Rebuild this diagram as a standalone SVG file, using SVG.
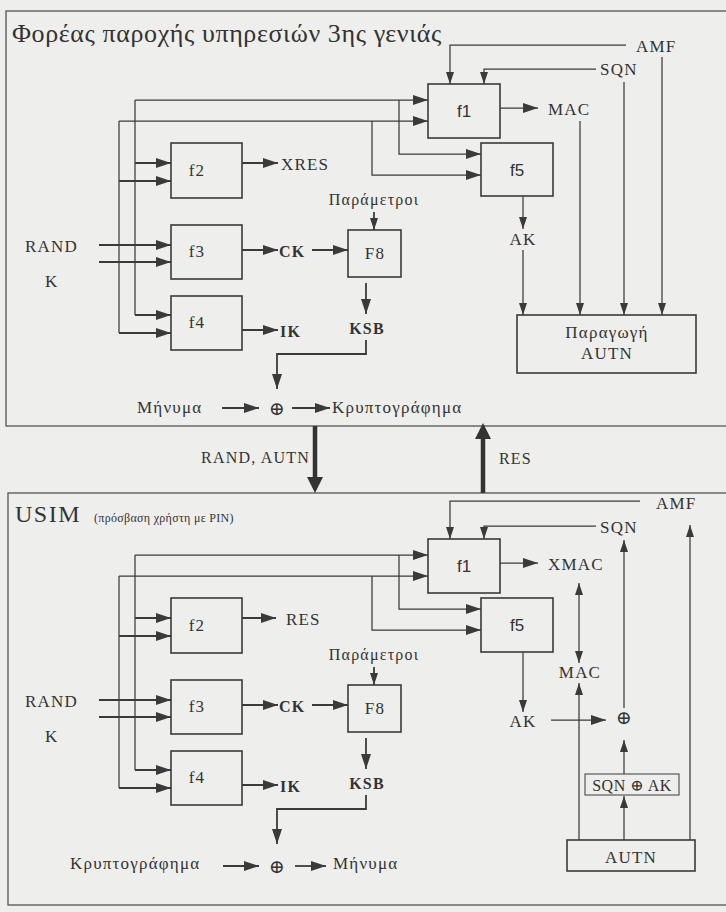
<svg xmlns="http://www.w3.org/2000/svg" width="726" height="912" viewBox="0 0 726 912" font-family="'Liberation Serif','Times New Roman',serif">
<defs>
<marker id="ah" markerUnits="userSpaceOnUse" markerWidth="15" markerHeight="10" refX="15" refY="5" orient="auto"><path d="M0,0 L15,5 L0,10 z" fill="#3a3a3a"/></marker>
<marker id="as" markerUnits="userSpaceOnUse" markerWidth="12" markerHeight="8" refX="12" refY="4" orient="auto"><path d="M0,0 L12,4 L0,8 z" fill="#3a3a3a"/></marker>
<marker id="asr" markerUnits="userSpaceOnUse" markerWidth="12" markerHeight="8" refX="0" refY="4" orient="auto"><path d="M12,0 L0,4 L12,8 z" fill="#3a3a3a"/></marker>
</defs>
<style>
text{font-family:"Liberation Serif","Times New Roman",serif;fill:#333;font-size:17px;letter-spacing:1.2px}
.sans{font-family:"Liberation Sans",Arial,sans-serif;letter-spacing:0}
.b{font-weight:bold;font-size:16px}
.m{text-anchor:middle}
.op{font-family:"DejaVu Serif",serif;font-size:19px;letter-spacing:0}
.box{fill:none;stroke:#3a3a3a;stroke-width:1.6}
.panel{fill:none;stroke:#555;stroke-width:1.3}
.t{fill:none;stroke:#3a3a3a;stroke-width:1.25}
.k{fill:none;stroke:#3a3a3a;stroke-width:1.8}
.big{fill:none;stroke:#333;stroke-width:4.5}
</style>
<rect width="726" height="912" fill="#eeeeec"/>

<g id="panel-top">
<rect class="panel" x="6" y="11" width="740" height="415"/>
<text x="12" y="42" style="font-size:26px;letter-spacing:0.6px">Φορέας παροχής υπηρεσιών 3ης γενιάς</text>
</g>
<g id="panel-bottom">
<rect class="panel" x="8" y="493" width="740" height="412"/>
<text x="15" y="522" style="font-size:24px;letter-spacing:1.5px">USIM</text>
<text x="94" y="522" style="font-size:12px;letter-spacing:0.3px">(πρόσβαση χρήστη με  PIN)</text>
</g>

<!-- top nodes -->
<g id="t-f1"><rect class="box" x="428" y="84" width="72" height="54"/><text class="sans m" x="464" y="117">f1</text></g>
<g id="t-f5"><rect class="box" x="481" y="143" width="72" height="53"/><text class="sans m" x="517" y="176">f5</text></g>
<g id="t-f2"><rect class="box" x="171" y="143" width="71" height="55"/><text class="m" x="197" y="176">f2</text></g>
<g id="t-f3"><rect class="box" x="171" y="225" width="71" height="54"/><text class="m" x="197" y="257">f3</text></g>
<g id="t-f4"><rect class="box" x="171" y="296" width="71" height="54"/><text class="m" x="197" y="328">f4</text></g>
<g id="t-F8"><rect class="box" x="348" y="230" width="53" height="47"/><text class="m" x="375" y="259">F8</text></g>
<g id="t-autn"><rect class="box" x="517" y="315" width="179" height="58"/><text class="m" x="607" y="338">Παραγωγή</text><text class="m" x="607" y="359">AUTN</text></g>
<g id="t-labels">
<text x="636" y="52">AMF</text>
<text x="600" y="75">SQN</text>
<text x="548" y="115">MAC</text>
<text class="m" x="523" y="245">AK</text>
<text x="281" y="170">XRES</text>
<text x="25" y="252">RAND</text>
<text x="45" y="287">K</text>
<text class="b" x="279" y="257">CK</text>
<text class="b" x="280" y="337">IK</text>
<text class="b m" x="367" y="334">KSB</text>
<text class="m" x="374" y="205" style="font-size:16px">Παράμετροι</text>
<text x="137" y="413">Μήνυμα</text>
<text class="op m" x="277" y="415">⊕</text>
<text x="332" y="413">Κρυπτογράφημα</text>
</g>

<!-- bottom nodes -->
<g id="b-f1"><rect class="box" x="428" y="539" width="72" height="54"/><text class="sans m" x="464" y="572">f1</text></g>
<g id="b-f5"><rect class="box" x="481" y="598" width="72" height="54"/><text class="sans m" x="517" y="631">f5</text></g>
<g id="b-f2"><rect class="box" x="171" y="598" width="71" height="55"/><text class="m" x="197" y="631">f2</text></g>
<g id="b-f3"><rect class="box" x="171" y="680" width="71" height="54"/><text class="m" x="197" y="712">f3</text></g>
<g id="b-f4"><rect class="box" x="171" y="751" width="71" height="54"/><text class="m" x="197" y="783">f4</text></g>
<g id="b-F8"><rect class="box" x="348" y="685" width="53" height="47"/><text class="m" x="375" y="714">F8</text></g>
<g id="b-xor"><rect fill="none" stroke="#3a3a3a" stroke-width="1" x="585" y="774" width="94" height="21"/><text class="m" x="632" y="791" style="font-size:16px;letter-spacing:0.5px">SQN <tspan style="font-family:'DejaVu Serif',serif">⊕</tspan> AK</text></g>
<g id="b-autn"><rect class="box" x="567" y="840" width="128" height="31"/><text class="m" x="631" y="863">AUTN</text></g>
<g id="b-labels">
<text x="656" y="509">AMF</text>
<text x="600" y="533">SQN</text>
<text x="548" y="570">XMAC</text>
<text class="m" x="580" y="678">MAC</text>
<text class="m" x="523" y="727">AK</text>
<text class="op m" x="624" y="724">⊕</text>
<text x="286" y="625">RES</text>
<text x="25" y="707">RAND</text>
<text x="45" y="742">K</text>
<text class="b" x="279" y="712">CK</text>
<text class="b" x="280" y="792">IK</text>
<text class="b m" x="367" y="789">KSB</text>
<text class="m" x="374" y="660" style="font-size:16px">Παράμετροι</text>
<text x="70" y="869">Κρυπτογράφημα</text>
<text class="op m" x="277" y="873">⊕</text>
<text x="333" y="869">Μήνυμα</text>
</g>

<g id="exchange">
<text x="310" y="463" style="text-anchor:end;font-size:16px">RAND, AUTN</text>
<path class="big" d="M315,426 V478"/>
<polygon points="307,477 323,477 315,493" fill="#333"/>
<text x="499" y="464" style="font-size:16px">RES</text>
<path class="big" d="M483,493 V438"/>
<polygon points="475,439 491,439 483,423" fill="#333"/>
</g>

<g id="connectors">
<!-- top -->
<path class="t" d="M626,45 H450 V84" marker-end="url(#as)"/>
<path class="t" d="M596,69 H484 V84" marker-end="url(#as)"/>
<path class="t" d="M662,57 V315" marker-end="url(#as)"/>
<path class="t" d="M624,82 V315" marker-end="url(#as)"/>
<path class="t" d="M580,121 V315" marker-end="url(#as)"/>
<path class="t" d="M500,108 H538" marker-end="url(#ah)"/>
<path class="t" d="M523,197 V229" marker-end="url(#as)"/>
<path class="t" d="M523,250 V315" marker-end="url(#as)"/>
<path class="t" d="M135,100 V315"/>
<path class="t" d="M119,121 V333"/>
<path class="t" d="M135,100 H428" marker-end="url(#ah)"/>
<path class="t" d="M119,121 H428" marker-end="url(#ah)"/>
<path class="t" d="M399,100 V154 H481" marker-end="url(#ah)"/>
<path class="t" d="M372,121 V175 H481" marker-end="url(#ah)"/>
<path class="k" d="M135,163 H171" marker-end="url(#ah)"/>
<path class="k" d="M119,181 H171" marker-end="url(#ah)"/>
<path class="k" d="M99,245 H171" marker-end="url(#ah)"/>
<path class="k" d="M99,262 H171" marker-end="url(#ah)"/>
<path class="k" d="M135,315 H171" marker-end="url(#ah)"/>
<path class="k" d="M119,333 H171" marker-end="url(#ah)"/>
<path class="k" d="M242,163 H278" marker-end="url(#ah)"/>
<path class="k" d="M242,250 H278" marker-end="url(#ah)"/>
<path class="k" d="M312,250 H348" marker-end="url(#ah)"/>
<path class="k" d="M242,330 H278" marker-end="url(#ah)"/>
<path class="k" d="M374,212 V230" marker-end="url(#as)"/>
<path class="k" d="M366,283 V314" marker-end="url(#ah)"/>
<path class="k" d="M366,340 V354 H277 V389" marker-end="url(#ah)"/>
<path class="k" d="M222,408 H259" marker-end="url(#ah)"/>
<path class="k" d="M292,408 H330" marker-end="url(#ah)"/>
<!-- bottom -->
<path class="t" d="M640,501 H450 V539" marker-end="url(#as)"/>
<path class="t" d="M596,526 H484 V539" marker-end="url(#as)"/>
<path class="t" d="M500,563 H538" marker-end="url(#ah)"/>
<path class="t" d="M135,555 V770"/>
<path class="t" d="M119,576 V788"/>
<path class="t" d="M135,555 H428" marker-end="url(#ah)"/>
<path class="t" d="M119,576 H428" marker-end="url(#ah)"/>
<path class="t" d="M399,555 V609 H481" marker-end="url(#ah)"/>
<path class="t" d="M372,576 V630 H481" marker-end="url(#ah)"/>
<path class="k" d="M135,618 H171" marker-end="url(#ah)"/>
<path class="k" d="M119,636 H171" marker-end="url(#ah)"/>
<path class="k" d="M99,700 H171" marker-end="url(#ah)"/>
<path class="k" d="M99,717 H171" marker-end="url(#ah)"/>
<path class="k" d="M135,770 H171" marker-end="url(#ah)"/>
<path class="k" d="M119,788 H171" marker-end="url(#ah)"/>
<path class="k" d="M242,618 H276" marker-end="url(#ah)"/>
<path class="k" d="M242,705 H278" marker-end="url(#ah)"/>
<path class="k" d="M312,705 H348" marker-end="url(#ah)"/>
<path class="k" d="M242,785 H278" marker-end="url(#ah)"/>
<path class="k" d="M374,667 V685" marker-end="url(#as)"/>
<path class="k" d="M366,738 V769" marker-end="url(#ah)"/>
<path class="k" d="M366,795 V809 H277 V844" marker-end="url(#ah)"/>
<path class="k" d="M223,866 H259" marker-end="url(#ah)"/>
<path class="k" d="M295,866 H326" marker-end="url(#ah)"/>
<path class="t" d="M523,653 V712" marker-end="url(#as)"/>
<path class="t" d="M551,720 H606" marker-end="url(#ah)"/>
<path class="t" d="M624,708 V540" marker-end="url(#as)"/>
<path class="t" d="M579,663 V583" marker-start="url(#asr)" marker-end="url(#as)"/>
<path class="t" d="M579,840 V683" marker-end="url(#as)"/>
<path class="t" d="M624,774 V740" marker-end="url(#as)"/>
<path class="t" d="M624,840 V796" marker-end="url(#as)"/>
<path class="t" d="M690,840 V525" marker-end="url(#as)"/>
</g>
</svg>
